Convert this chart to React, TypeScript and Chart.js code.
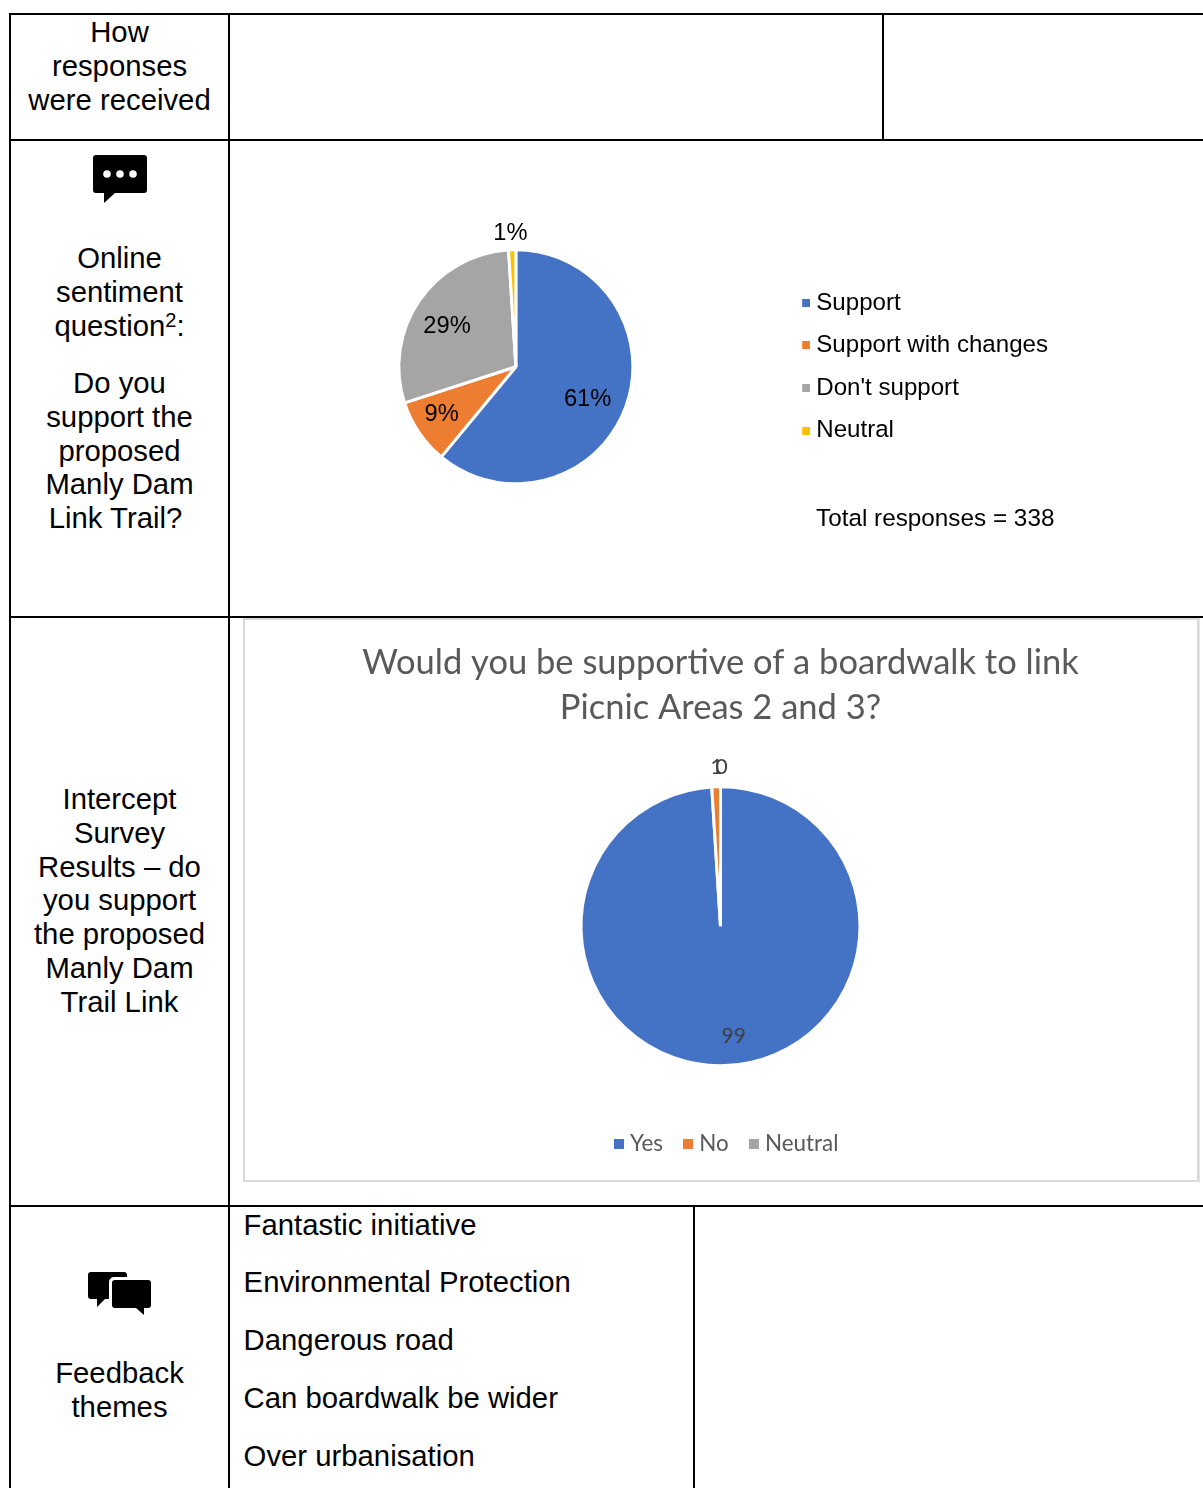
import React, { useEffect, useRef } from "react";
import { Chart, registerables } from "chart.js";

Chart.register(...registerables);

const sentimentLabels = ["Support", "Support with changes", "Don't support", "Neutral"];
const sentimentValues = [61, 9, 29, 1];
const sentimentColors = ["#4472C4", "#ED7D31", "#A5A5A5", "#FFC000"];
const sentimentText = ["61%", "9%", "29%", "1%"];

const interceptLabels = ["Yes", "No", "Neutral"];
const interceptValues = [99, 1, 0];
const interceptColors = ["#4472C4", "#ED7D31", "#A5A5A5"];
const interceptText = ["99", "1", "0"];

const interceptTitle = ["Would you be supportive of a boardwalk to link", "Picnic Areas 2 and 3?"];
const feedbackThemes = ["Fantastic initiative", "Environmental Protection", "Dangerous road", "Can boardwalk be wider", "Over urbanisation"];

const ARIAL = '"Liberation Sans", Arial, sans-serif';
const LATO = 'Lato, sans-serif';

// Draws a text label on every slice, placed from the arc the library computed.
const sliceLabels = {
  id: "sliceLabels",
  afterDraw(chart: any, _a: any, opts: any) {
    const { ctx } = chart;
    const arcs = chart.getDatasetMeta(0).data;
    ctx.save();
    ctx.font = opts.font;
    ctx.fillStyle = opts.color;
    ctx.textAlign = "center";
    ctx.textBaseline = "middle";
    arcs.forEach((arc: any, i: number) => {
      const p = arc.getProps(["x", "y", "startAngle", "endAngle", "outerRadius"], true);
      const a = (p.startAngle + p.endAngle) / 2 + (opts.turn[i] * Math.PI) / 180;
      const r = p.outerRadius * opts.reach[i];
      ctx.fillText(opts.text[i], p.x + Math.cos(a) * r, p.y + Math.sin(a) * r + opts.dy);
    });
    ctx.restore();
  },
};

// Moves the legend sideways without touching the pie or the title.
const legendNudge = {
  id: "legendNudge",
  afterLayout(chart: any, _a: any, opts: any) {
    chart.legend.left += opts.dx || 0;
    chart.legend.right += opts.dx || 0;
  },
};

// A filled square used as the legend marker, so that the marker can sit close to its text.
// The image is centred on the legend box, so empty space on its left moves the square right.
function swatch(color: string, size: number, shift: number) {
  const c = document.createElement("canvas");
  c.width = size + shift * 2;
  c.height = size;
  const g = c.getContext("2d")!;
  g.fillStyle = color;
  g.fillRect(shift * 2, 0, size, size);
  return c;
}

const squareLabels = (colors: string[], size: number, shift: number) => (chart: any) =>
  (Chart as any).overrides.pie.plugins.legend.labels.generateLabels(chart).map((l: any, i: number) => ({
    ...l,
    pointStyle: swatch(colors[i], size, shift),
    lineWidth: 0,
  }));

function SentimentPie() {
  const ref = useRef<HTMLCanvasElement>(null);
  useEffect(() => {
    const chart = new Chart(ref.current!, {
      type: "pie",
      data: {
        labels: sentimentLabels,
        datasets: [{ data: sentimentValues, backgroundColor: sentimentColors, borderColor: "#fff", borderWidth: 3, radius: 117 }],
      },
      plugins: [sliceLabels],
      options: {
        animation: false,
        responsive: false,
        layout: { padding: { left: 16.1, bottom: 23.5 } },
        plugins: {
          tooltip: { enabled: false },
          legend: {
            position: "right",
            align: "center",
            labels: {
              usePointStyle: true,
              pointStyleWidth: 0.1,
              boxHeight: 9,
              padding: 18.5,
              color: "#000",
              font: { family: ARIAL, size: 24.1 },
              generateLabels: squareLabels(sentimentColors, 8, 2),
            },
          },
          sliceLabels: {
            text: sentimentText,
            reach: [0.67, 0.75, 0.688, 1.15],
            turn: [4, 2, -3, -0.5],
            dy: 1,
            font: `23.7px ${ARIAL}`,
            color: "#000",
          },
        } as any,
      },
    });
    return () => chart.destroy();
  }, []);
  return <canvas ref={ref} width={828} height={475} style={{ position: "absolute", left: 230, top: 141, width: 828, height: 475 }} />;
}

function InterceptPie() {
  const ref = useRef<HTMLCanvasElement>(null);
  useEffect(() => {
    const chart = new Chart(ref.current!, {
      type: "pie",
      data: {
        labels: interceptLabels,
        datasets: [{ data: interceptValues, backgroundColor: interceptColors, borderColor: "#fff", borderWidth: 3, radius: 139.5 }],
      },
      plugins: [sliceLabels, legendNudge],
      options: {
        animation: false,
        responsive: false,
        layout: { padding: { top: 20.5, bottom: 16 } },
        plugins: {
          tooltip: { enabled: false },
          legendNudge: { dx: 8 },
          title: {
            display: true,
            text: interceptTitle,
            color: "#595959",
            font: { family: LATO, size: 34.5, weight: "normal", lineHeight: 1.33 },
            padding: { top: 0, bottom: 13.5 },
          },
          legend: {
            position: "bottom",
            labels: {
              usePointStyle: true,
              pointStyleWidth: 0.1,
              boxHeight: 10,
              padding: 25,
              color: "#595959",
              font: { family: LATO, size: 22.4 },
              generateLabels: squareLabels(interceptColors, 10, 0),
            },
          },
          sliceLabels: {
            text: interceptText,
            reach: [0.795, 1.14, 1.14],
            turn: [-5, 0.4, 0.4],
            dy: 0,
            font: `21px ${LATO}`,
            color: "#404040",
          },
        } as any,
      },
    });
    return () => chart.destroy();
  }, []);
  return <canvas ref={ref} width={953} height={562} style={{ position: "absolute", left: 244, top: 619, width: 953, height: 562 }} />;
}

const Line = ({ x, y, w, h, c = "#000" }: any) => <div style={{ position: "absolute", left: x, top: y, width: w, height: h, background: c }} />;

const Cell = ({ top, lines, cx = 119.5 }: any) => (
  <div style={{ position: "absolute", left: cx - 110, top, width: 220, textAlign: "center", fontSize: 29.3, lineHeight: "33.8px", whiteSpace: "nowrap" }}>
    {lines.map((l: any, i: number) => <div key={i}>{l}</div>)}
  </div>
);

export default function App() {
  useEffect(() => {
    document.body.style.margin = "0";
  }, []);
  return (
    <div style={{ position: "relative", width: 1203, height: 1488, overflow: "hidden", background: "#fff", fontFamily: ARIAL, color: "#000" }}>
      <Line x={10} y={13} w={1193} h={2} />
      <Line x={10} y={139} w={1193} h={2} />
      <Line x={10} y={616} w={1193} h={2} />
      <Line x={10} y={1205} w={1193} h={2} />
      <Line x={9} y={13} w={2} h={1475} />
      <Line x={228} y={13} w={2} h={1475} />
      <Line x={882} y={13} w={2} h={127} />
      <Line x={693} y={1205} w={2} h={283} />

      <Cell top={15} lines={["How", "responses", "were received"]} />
      <svg style={{ position: "absolute", left: 93, top: 155 }} width={54} height={48} viewBox="0 0 54 48">
        <path d="M3 0H51a3 3 0 0 1 3 3V35a3 3 0 0 1 -3 3H22L11 48V38H3a3 3 0 0 1 -3 -3V3a3 3 0 0 1 3 -3Z" fill="#000" />
        <circle cx="14" cy="19" r="3.8" fill="#fff" />
        <circle cx="27" cy="19" r="3.8" fill="#fff" />
        <circle cx="40" cy="19" r="3.8" fill="#fff" />
      </svg>
      <Cell top={241} lines={["Online", "sentiment", <span>question<sup style={{ fontSize: 20, lineHeight: 0, verticalAlign: 9 }}>2</sup>:</span>]} />
      <Cell top={366} lines={["Do you", "support the", "proposed", "Manly Dam"]} />
      <Cell top={501} cx={115.5} lines={["Link Trail?"]} />
      <Cell top={782} lines={["Intercept", "Survey", "Results – do", "you support", "the proposed", "Manly Dam", "Trail Link"]} />
      <svg style={{ position: "absolute", left: 88, top: 1272 }} width={64} height={44} viewBox="0 0 64 44">
        <path d="M3 0H36a3 3 0 0 1 3 3V5H26a5 5 0 0 0 -5 5V27H17L9 35V27H3a3 3 0 0 1 -3 -3V3a3 3 0 0 1 3 -3Z" fill="#000" />
        <path d="M27 8H60a3 3 0 0 1 3 3V33a3 3 0 0 1 -3 3H56V43L48 36H27a3 3 0 0 1 -3 -3V11a3 3 0 0 1 3 -3Z" fill="#000" />
      </svg>
      <Cell top={1356} lines={["Feedback", "themes"]} />

      <SentimentPie />
      <div style={{ position: "absolute", left: 816, top: 503, fontSize: 24.3, lineHeight: "30px", whiteSpace: "nowrap" }}>Total responses = 338</div>

      <Line x={243} y={618} w={956} h={2} c="#d9d9d9" />
      <Line x={243} y={1180} w={956} h={2} c="#d9d9d9" />
      <Line x={243} y={618} w={2} h={564} c="#d9d9d9" />
      <Line x={1197} y={618} w={2} h={564} c="#d9d9d9" />
      <Line x={1199} y={618} w={1} h={565} c="#f5f56a" />
      <InterceptPie />

      {feedbackThemes.map((t, i) => (
        <div key={t} style={{ position: "absolute", left: 243.6, top: 1208 + [0, 57, 115, 173, 231][i], fontSize: 29.3, lineHeight: "34px", whiteSpace: "nowrap" }}>{t}</div>
      ))}
    </div>
  );
}
